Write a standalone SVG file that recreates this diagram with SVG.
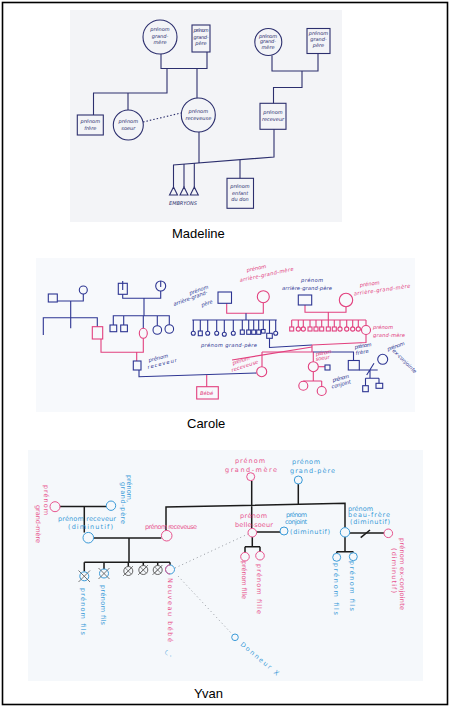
<svg xmlns="http://www.w3.org/2000/svg" width="451" height="709" viewBox="0 0 451 709">
<style>
.photo{stroke:none}
.cap{font-family:"Liberation Sans",Arial,sans-serif;font-size:13px;fill:#000}
.m{fill:none;stroke:#2c2f6e;stroke-width:1.1}
.mt{font-family:"DejaVu Sans",sans-serif;font-size:5px;fill:#2c2f6e;font-style:italic;text-anchor:middle}
.nv{fill:none;stroke:#2d3592;stroke-width:1.1}
.pk{fill:none;stroke:#e2407e;stroke-width:1.1}
.nvt{font-family:"DejaVu Sans",sans-serif;font-size:5.2px;fill:#2d3592;font-style:italic}
.pkt{font-family:"DejaVu Sans",sans-serif;font-size:5.2px;fill:#e2407e;font-style:italic}
.bk{fill:none;stroke:#1b1b1b;stroke-width:1.5}
.yp{fill:#f5f8fb;stroke:#e8548e;stroke-width:1}
.yb{fill:#f5f8fb;stroke:#3a9ad8;stroke-width:1}
.ypt{font-family:"DejaVu Sans",sans-serif;font-size:6.5px;fill:#e8548e}
.ybt{font-family:"DejaVu Sans",sans-serif;font-size:6.5px;fill:#3a9ad8}
.dot{fill:none;stroke:#8a8f96;stroke-width:0.9;stroke-dasharray:1 3}
</style>
<rect x="0" y="0" width="451" height="709" fill="#ffffff"/>
<rect x="2.5" y="2.5" width="445" height="702" fill="none" stroke="#000" stroke-width="1.6"/>

<!-- ============ MADELINE ============ -->
<rect class="photo" x="70" y="10" width="272" height="212" fill="#f3f4f7"/>
<g id="madeline-connectors">
<path class="m" d="M161,54 V68.5 H207 V52"/>
<path class="m" d="M167,68.5 V93 H93.5 V115 M128,93 V110"/>
<path class="m" d="M197,68.5 V98"/>
<path class="m" d="M143,122 L181,113" stroke-dasharray="1.5 2"/>
<path class="m" d="M272,55.5 V71 H318 V53.5 M302,71 V87.5 H273.5 V103.3"/>
<path class="m" d="M274,129.3 V157 L173,165 M199,132 V163"/>
<path class="m" d="M173.5,165 V187 M184,164 V187 M194.3,163 V187"/>
<path class="m" d="M240,160 V178.3"/>
</g>
<g id="m-grandmere1"><circle class="m" cx="160" cy="37" r="17"/><text class="mt" x="160" y="31">prénom</text><text class="mt" x="160" y="37.5">grand-</text><text class="mt" x="160" y="44">mère</text></g>
<g id="m-grandpere1"><rect class="m" x="192" y="25" width="18" height="27"/><text class="mt" x="201" y="32" textLength="15">prénom</text><text class="mt" x="201" y="38.5" textLength="15">grand-</text><text class="mt" x="201" y="45">père</text></g>
<g id="m-grandmere2"><circle class="m" cx="268.3" cy="42" r="13.5"/><text class="mt" x="268" y="37.5" textLength="18">prénom</text><text class="mt" x="268" y="43" textLength="16">grand-</text><text class="mt" x="268" y="48.5">mère</text></g>
<g id="m-grandpere2"><rect class="m" x="307" y="28.5" width="23" height="25"/><text class="mt" x="318.5" y="35">prénom</text><text class="mt" x="318.5" y="41">grand-</text><text class="mt" x="318.5" y="47">père</text></g>
<g id="m-frere"><rect class="m" x="77.3" y="115" width="26" height="20"/><text class="mt" x="90.3" y="123">prénom</text><text class="mt" x="90.3" y="129.5">frère</text></g>
<g id="m-soeur"><circle class="m" cx="128.3" cy="125" r="15"/><text class="mt" x="128.3" y="123">prénom</text><text class="mt" x="128.3" y="129.5">soeur</text></g>
<g id="m-receveuse"><circle class="m" cx="198.3" cy="115" r="17"/><text class="mt" x="198.3" y="112.5">prénom</text><text class="mt" x="198.3" y="119.5">receveuse</text></g>
<g id="m-receveur"><rect class="m" x="260" y="103.3" width="26" height="26"/><text class="mt" x="273" y="114">prénom</text><text class="mt" x="273" y="120.5">receveur</text></g>
<g id="m-embryons">
<path class="m" d="M169.5,195 L173.5,187 L177.5,195 Z M180,195 L184,187 L188,195 Z M190.3,195 L194.3,187 L198.3,195 Z"/>
<text class="mt" x="183" y="205" textLength="28">EMBRYONS</text>
</g>
<g id="m-enfant"><rect class="m" x="227" y="178.3" width="26.5" height="30"/><text class="mt" x="240" y="188">prénom</text><text class="mt" x="240" y="194.5">enfant</text><text class="mt" x="240" y="201">du don</text></g>
<text class="cap" x="172" y="238">Madeline</text>

<!-- ============ CAROLE ============ -->
<rect class="photo" x="36" y="258" width="379" height="154" fill="#f7f9fc"/>
<g id="carole-connectors">
<path class="nv" d="M57.3,301 H83.3 V294 M70.7,301 V317.7 M43.3,335 V317.7 H97.3 V326.7 M70.7,317.7 V328.3"/>
<path class="nv" d="M122.7,294.3 V298.3 H160.7 V291 M144,298.3 V315.7 M113.3,325 V315.7 H169.3 V324.7 M123.7,315.7 V325 M157.3,315.7 V325.7 M143.3,315.7 V328.3"/>
<path class="pk" d="M101,339 V352.3 H143.3 V338.3 M136.7,352.3 V361"/>
<path class="nv" d="M139,370 V376.7 L256.5,373"/>
<path class="pk" d="M206.7,375 V386.7"/>
<path class="pk" d="M226.7,303.3 V313.3 H263.3 V302.7"/>
<path class="nv" d="M246,313.3 V320 M192.3,320 H276.7"/>
<path class="nv" d="M193.3,320 V331.3 M200.3,320 V331 M207.7,320 V331.3 M216.7,320 V331.3 M224.3,320 V332.3 M233.3,320 V331.3 M242.3,320 V330 M248.7,320 V330 M253.7,320 V330 M258.7,320 V330 M263.3,320 V329.5 M269.5,320 V333.3 M275.7,320 V331.3"/>
<path class="nv" d="M269.5,338.3 V347.5 L312,345"/>
<path class="pk" d="M305,305 V312.3 H346 V306.7 M328.3,312.3 V320 M291.7,320 H366"/>
<path class="pk" d="M291.7,320 V327 M298.3,320 V327 M303.3,320 V327 M310,320 V327 M316,320 V327 M321.7,320 V327 M328.3,320 V327 M334.3,320 V327 M340,320 V327 M346.7,320 V327 M352.7,320 V327 M358.3,320 V327 M366,320 V325.5"/>
<path class="pk" d="M366,334.5 V342.5 L312,345 M232,360 L312,347"/>
<path class="pk" d="M312,345 V352 M262,352 H313.3 V361.7 M262,352 V366.7"/>
<path class="nv" d="M313.3,352 H353.5 V360"/>
<path class="pk" d="M318.3,366.7 H325"/>
<path class="pk" d="M313.3,371.7 V381 M303.3,381 H321.7 M303.3,381 V381.2 M321.7,381 V386.5"/>
<path class="nv" d="M359.3,370 H377.7 M366.7,375 L374,363.3 M370,370 V378.3 M365.5,378.3 H379 M365.5,378.3 V385.7 M379,378.3 V383.3"/>
</g>
<g id="c-ggp1"><rect class="nv" x="48.3" y="294" width="9" height="8"/></g>
<g id="c-ggm1"><circle class="nv" cx="83.3" cy="290" r="4"/></g>
<g id="c-pere-receveur"><rect class="pk" x="92.3" y="326.7" width="10.4" height="12.3"/></g>
<g id="c-ggp2"><rect class="nv" x="118.3" y="283.3" width="9" height="11"/><path class="nv" d="M122.7,281 V290"/></g>
<g id="c-ggm2"><circle class="nv" cx="160.7" cy="286" r="5"/><path class="nv" d="M160.7,281 V287"/></g>
<g id="c-oncles"><rect class="nv" x="110" y="325" width="6.7" height="6.7"/><rect class="nv" x="120.7" y="325" width="6.7" height="6.7"/><circle class="nv" cx="157.3" cy="330" r="4.3"/><circle class="nv" cx="169.3" cy="329" r="4.3"/></g>
<g id="c-mere-receveur"><ellipse class="pk" cx="143.3" cy="333.3" rx="4" ry="5"/></g>
<g id="c-receveur"><rect class="nv" x="133.3" y="361" width="7.7" height="9"/><text class="nvt" transform="translate(149,362) rotate(-14)" textLength="20">prénom</text><text class="nvt" transform="translate(148,369) rotate(-14)" textLength="30">receveur</text></g>
<g id="c-bebe"><rect class="pk" x="196.7" y="386.7" width="21.6" height="12.3"/><text class="pkt" x="200" y="395" font-size="5.5">Bébé</text></g>
<g id="c-agp-label"><text class="nvt" transform="translate(190,295) rotate(-20)" textLength="20">prénom</text><text class="nvt" transform="translate(174,306) rotate(-20)" textLength="36">arrière-grand-</text><text class="nvt" transform="translate(202,307) rotate(-20)">père</text></g>
<g id="c-agp1"><rect class="nv" x="218" y="292" width="13.5" height="11.3"/></g>
<g id="c-agm1"><circle class="pk" cx="263.3" cy="296.7" r="6"/><text class="pkt" transform="translate(247,272) rotate(-12)" textLength="20">prénom</text><text class="pkt" transform="translate(240,282) rotate(-12)" textLength="55">arrière-grand-mère</text></g>
<g id="c-fratrie-gp">
<circle class="nv" cx="193.3" cy="333.3" r="2"/><rect class="nv" x="198.3" y="331" width="4" height="4.7"/><circle class="nv" cx="207.7" cy="333.3" r="2"/><circle class="nv" cx="216.7" cy="333.3" r="2"/><circle class="nv" cx="224.3" cy="334.3" r="2"/><circle class="nv" cx="233.3" cy="333.3" r="2"/>
<rect class="nv" x="240.3" y="330" width="4" height="4.3"/><rect class="nv" x="246.7" y="330" width="4" height="4.3"/><rect class="nv" x="251.7" y="330" width="4" height="4.3"/><rect class="nv" x="256.7" y="330" width="4" height="4.3"/><rect class="nv" x="261.5" y="329.5" width="3.6" height="3.6"/><circle class="nv" cx="275.7" cy="333.3" r="2"/>
</g>
<g id="c-grandpere"><rect class="nv" x="266.7" y="333.3" width="5.6" height="5"/><text class="nvt" x="201" y="347" textLength="56">prénom grand-père</text></g>
<g id="c-agp2"><rect class="nv" x="298.3" y="295" width="13.4" height="10"/><text class="nvt" x="301" y="282" textLength="22">prénom</text><text class="nvt" x="282" y="290" textLength="50">arrière-grand-père</text></g>
<g id="c-agm2"><circle class="pk" cx="346" cy="300" r="6.7"/><text class="pkt" transform="translate(360,287) rotate(-8)" textLength="20">prénom</text><text class="pkt" transform="translate(354,295.5) rotate(-8)" textLength="57">arrière-grand-mère</text></g>
<g id="c-fratrie-gm">
<rect class="pk" x="289.7" y="327" width="4" height="4"/><circle class="pk" cx="298.3" cy="329" r="2.1"/><circle class="pk" cx="303.3" cy="329" r="2.1"/><rect class="pk" x="308" y="327" width="4" height="4"/><rect class="pk" x="314" y="327" width="4" height="4"/><rect class="pk" x="319.7" y="327" width="4" height="4"/><rect class="pk" x="326.3" y="327" width="4" height="4"/><rect class="pk" x="332.3" y="327" width="4" height="4"/><circle class="pk" cx="340" cy="329" r="2.1"/><circle class="pk" cx="346.7" cy="329" r="2.1"/><circle class="pk" cx="352.7" cy="329" r="2.1"/><circle class="pk" cx="358.3" cy="329" r="2.1"/>
</g>
<g id="c-grandmere"><circle class="pk" cx="366" cy="330" r="4.5"/><text class="pkt" x="373" y="329" textLength="20">prénom</text><text class="pkt" x="373" y="337" textLength="32">grand-mère</text></g>
<g id="c-receveuse"><circle class="pk" cx="261.7" cy="371.7" r="5"/><text class="pkt" transform="translate(233,365) rotate(-18)" textLength="18">prénom</text><text class="pkt" transform="translate(232,372) rotate(-18)" textLength="28">receveuse</text></g>
<g id="c-soeur"><circle class="pk" cx="313.3" cy="366.7" r="5"/><text class="pkt" transform="translate(316,356) rotate(-10)" textLength="16">prénom</text><text class="pkt" transform="translate(316,361) rotate(-10)" textLength="14">soeur</text></g>
<g id="c-conjoint"><rect class="nv" x="325" y="365" width="5" height="5"/><text class="nvt" transform="translate(333,382) rotate(-15)" textLength="17">prénom</text><text class="nvt" transform="translate(332,388.5) rotate(-15)" textLength="20">conjoint</text></g>
<g id="c-cousines"><circle class="pk" cx="303.3" cy="385.7" r="4.5"/><circle class="pk" cx="321.7" cy="391" r="4.5"/></g>
<g id="c-frere"><rect class="nv" x="348.3" y="360.5" width="11" height="9.5"/><text class="nvt" transform="translate(355,349) rotate(-10)" textLength="17">prénom</text><text class="nvt" transform="translate(356,355) rotate(-10)" textLength="13">frère</text></g>
<g id="c-exconjointe"><circle class="nv" cx="382.7" cy="359.3" r="5"/><text class="nvt" transform="translate(388,351) rotate(-20)" textLength="18">prénom</text><text class="nvt" transform="translate(392,351) rotate(45)" textLength="32">ex-conjointe</text></g>
<g id="c-neveux"><rect class="nv" x="362.7" y="385.7" width="5.6" height="6"/><rect class="nv" x="376" y="383.3" width="6.7" height="5"/></g>
<text class="cap" x="187" y="428">Carole</text>

<!-- ============ YVAN ============ -->
<rect class="photo" x="28" y="450" width="395" height="231" fill="#f5f8fb"/>
<g id="yvan-connectors">
<path class="bk" d="M60,506.5 H106.5 M84.3,506.5 V532.4 M93.6,538 H161.4"/>
<path class="bk" d="M166,530.4 V507 L345,503.3 V527.6 M298.3,484 V503.5 M251.7,481 V528.4"/>
<path class="bk" d="M129,538 V562.3 M84.3,562.3 H170 M84.3,562.3 V571.5 M104,562.3 V569 M128.3,562.3 V566.5 M143.3,562.3 V565.5 M157.7,562.3 V565.5 M170,562.3 V565"/>
<path class="bk" d="M256.6,532 H280 M252.3,537 V546.7 M245,546.7 H260 M245,546.7 V552.4 M260,546.7 V551.4"/>
<path class="bk" d="M349.7,533 H384 M345,537 V551.7 M336.7,551.7 H353.3 M336.7,551.7 V553.3 M353.3,551.7 V552.7"/>
<path class="bk" d="M360.7,537.7 L370,530" stroke-width="1.2"/>
<path class="dot" d="M175,568 L248,534"/>
<path class="dot" d="M178,576 L232,634"/>
</g>
<g id="y-grandmere-l"><circle class="yp" cx="55" cy="506.7" r="5"/><text class="ypt" transform="translate(44,485) rotate(90)" textLength="30">prénom</text><text class="ypt" transform="translate(36,505) rotate(90)" textLength="38">grand-mère</text></g>
<g id="y-grandpere-l"><circle class="yb" cx="111" cy="505.7" r="4.7"/><text class="ybt" transform="translate(126.5,475) rotate(90)" textLength="27">prénom,</text><text class="ybt" transform="translate(120.5,482) rotate(90)" textLength="42">grand-père</text></g>
<g id="y-receveur"><circle class="yb" cx="88.3" cy="537.7" r="5.3"/><text class="ybt" x="58" y="521" textLength="58">prénom receveur</text><text class="ybt" x="68" y="528.5" textLength="45">(diminutif)</text></g>
<g id="y-receveuse"><circle class="yp" cx="166.7" cy="535.7" r="5.3"/><text class="ypt" x="145" y="529" textLength="52">prénom receveuse</text></g>
<g id="y-fils1"><circle class="yb" cx="84.3" cy="576.3" r="4.5"/><path d="M78.5,570.5 L90,582 M90,570.5 L78.5,582" stroke="#555" stroke-width="0.8"/><text class="ybt" transform="translate(81,588) rotate(90)" textLength="47">prénom fils</text></g>
<g id="y-fils2"><circle class="yb" cx="104" cy="573.5" r="4.5"/><path d="M98.5,568 L109.5,579 M109.5,568 L98.5,579" stroke="#555" stroke-width="0.8"/><text class="ybt" transform="translate(101,585) rotate(90)" textLength="40">prénom fils</text></g>
<g id="y-x3"><circle cx="128.3" cy="571" r="4.5" fill="none" stroke="#555" stroke-width="0.9"/><path d="M125,567.7 L131.6,574.3 M131.6,567.7 L125,574.3 M123,576 L133,566" stroke="#555" stroke-width="0.7"/></g>
<g id="y-x4"><circle cx="143.3" cy="570" r="4.5" fill="none" stroke="#555" stroke-width="0.9"/><path d="M140,566.7 L146.6,573.3 M146.6,566.7 L140,573.3 M138,575 L148,565" stroke="#555" stroke-width="0.7"/></g>
<g id="y-x5"><circle cx="157.7" cy="570" r="4.5" fill="none" stroke="#555" stroke-width="0.9"/><path d="M154.4,566.7 L161,573.3 M161,566.7 L154.4,573.3 M152.4,575 L162.4,565" stroke="#555" stroke-width="0.7"/></g>
<g id="y-bebe"><circle class="yb" cx="170" cy="569.5" r="4.5"/><path d="M170,565 A4.5,4.5 0 0 0 170,574" fill="none" stroke="#e8548e" stroke-width="1"/><text class="ypt" transform="translate(167.5,578) rotate(90)" textLength="64">Nouveau bébé</text><text class="ybt" font-size="8" transform="translate(166,650) rotate(90)">◡ ̈</text></g>
<g id="y-grandmere-r"><circle class="yp" cx="250.7" cy="476.7" r="4"/><text class="ypt" x="235" y="463" textLength="30">prénom</text><text class="ypt" x="225" y="472" textLength="52">grand-mère</text></g>
<g id="y-grandpere-r"><circle class="yb" cx="298.3" cy="480" r="4"/><text class="ybt" x="292" y="464" textLength="28">prénom</text><text class="ybt" x="290" y="472.5" textLength="45">grand-père</text></g>
<g id="y-bellesoeur"><circle class="yp" cx="252.3" cy="532.7" r="4.3"/><text class="ypt" x="240" y="518" textLength="27">prénom</text><text class="ypt" x="235" y="527" textLength="38">belle-soeur</text></g>
<g id="y-conjoint"><circle class="yb" cx="284" cy="531" r="4"/><text class="ybt" x="286" y="516.5" font-size="5" textLength="21">prénom</text><text class="ybt" x="285" y="523.5" font-size="5" textLength="22">conjoint</text><text class="ybt" x="290" y="534" textLength="40">(diminutif)</text></g>
<g id="y-beaufrere"><circle class="yb" cx="345" cy="532.3" r="4.7"/><text class="ybt" x="348" y="510.5" font-size="5.8" textLength="25">prénom</text><text class="ybt" x="348" y="517.3" font-size="5.8" textLength="42">beau-frère</text><text class="ybt" x="350" y="524.3" font-size="5.8" textLength="40">(diminutif)</text></g>
<g id="y-exconjointe"><circle class="yp" cx="388.3" cy="533.3" r="4.3"/><text class="ypt" transform="translate(400,538) rotate(90)" textLength="72">prénom ex-conjointe</text><text class="ypt" transform="translate(392,548) rotate(90)" textLength="45">(diminutif)</text></g>
<g id="y-fille1"><circle class="yp" cx="245" cy="556.7" r="4.3"/><text class="ypt" transform="translate(242,561) rotate(90)" textLength="38">prénom fille</text></g>
<g id="y-fille2"><circle class="yp" cx="260" cy="555.7" r="4.3"/><text class="ypt" transform="translate(257,564) rotate(90)" textLength="50">prénom fille</text></g>
<g id="y-fils3"><circle class="yb" cx="336.7" cy="557.3" r="4"/><text class="ybt" transform="translate(334,563) rotate(90)" textLength="52">prénom fils</text></g>
<g id="y-fils4"><circle class="yb" cx="353.3" cy="556.7" r="4"/><text class="ybt" transform="translate(350,561) rotate(90)" textLength="50">prénom fils</text></g>
<g id="y-donneur"><circle class="yb" cx="235" cy="637.3" r="3.3"/><text class="ybt" font-size="7" transform="translate(240,645) rotate(40)" textLength="48">Donneur X</text></g>
<text class="cap" x="194" y="698">Yvan</text>
</svg>
